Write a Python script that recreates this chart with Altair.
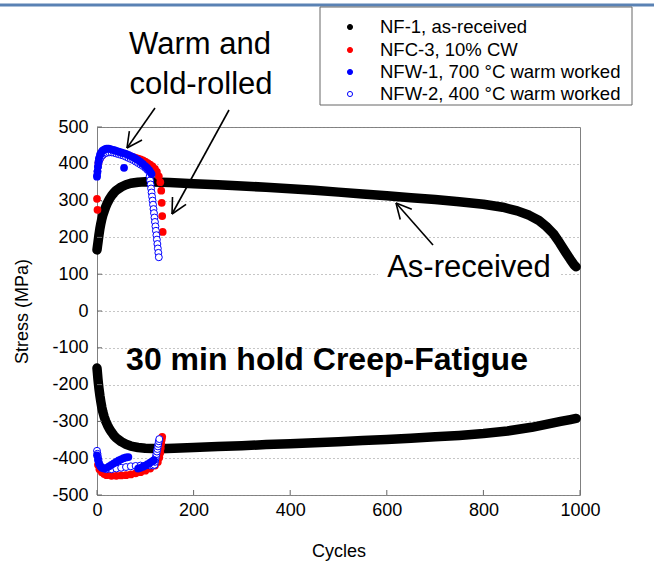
import math
import altair as alt
import pandas as pd

# ---------------- data ----------------
SERIES = ["NF-1, as-received", "NFC-3, 10% CW",
          "NFW-1, 700 °C warm worked", "NFW-2, 400 °C warm worked"]

# NF-1 as-received: tension peak (max) and compression peak (min)
NF1_T_CYC = [0, 1, 2, 3, 4, 5, 6, 8, 10, 12, 15, 18, 22, 26, 30, 35, 40, 50, 60, 70,
             85, 100, 150, 200, 250, 300, 350, 400, 450, 500, 550, 600, 650, 700, 750, 800,
             840, 870, 895, 915, 930, 945, 958, 970, 980, 988, 992]
NF1_T_S = [166, 176, 186, 196, 206, 215, 224, 238, 250, 260, 272, 283, 295, 305, 313, 321, 328, 337, 343, 347,
           350, 351, 349, 346, 343, 340, 336, 332, 328, 323, 318, 313, 308, 303, 297, 290,
           282, 272, 260, 246, 230, 210, 185, 160, 140, 125, 120]
NF1_C_CYC = [0, 1, 2, 3, 4, 5, 6, 8, 10, 12, 15, 18, 22, 26, 30, 35, 40, 50, 60, 70,
             85, 100, 130, 160, 200, 250, 300, 350, 400, 450, 500, 550, 600, 650, 700, 750,
             800, 850, 900, 930, 960, 980, 992]
NF1_C_S = [-155, -170, -185, -198, -210, -220, -230, -247, -262, -274, -288, -299, -311, -321, -329, -338, -345, -355, -362, -367,
           -371, -373, -374, -373, -371, -368, -366, -363, -361, -358, -355, -352, -349, -346, -342, -338,
           -333, -326, -316, -308, -300, -295, -292]

# NFC-3, 10% CW
RED_T_CYC = [0, 1, 3, 6, 10, 15, 20, 25, 30, 35, 40, 45, 50, 55, 60, 65, 70, 75, 80, 85,
             90, 95, 100, 105, 110, 115, 120, 124, 128, 131, 133, 134, 135, 136]
RED_T_S = [305, 275, 402, 414, 422, 428, 432, 434, 434, 433, 432, 430, 428, 426, 424, 422, 420, 418, 416, 414,
           412, 409, 406, 402, 398, 393, 386, 378, 366, 350, 327, 294, 258, 215]
RED_C_CYC = [2, 5, 10, 15, 20, 30, 40, 50, 60, 70, 80, 90, 100, 110, 120, 126, 129, 131, 132, 133, 134, 135]
RED_C_S = [-418, -430, -438, -443, -446, -448, -448, -447, -446, -444, -441, -438, -434, -428, -420, -410,
           -398, -385, -372, -360, -350, -342]

# NFW-1, 700 °C warm worked (filled blue)
BF_T_CYC = [0, 1, 2, 3, 4, 6, 8, 11, 14, 17, 20, 24, 28, 32, 36, 40, 45, 50, 55, 60,
            65, 70, 75, 80, 85, 90, 95, 100, 104, 108, 111, 113, 56]
BF_T_S = [365, 378, 392, 405, 415, 424, 430, 435, 438, 440, 441, 441, 440, 438, 437, 435, 433, 431, 429, 427,
          424, 421, 418, 414, 410, 405, 400, 394, 389, 383, 377, 372, 389]
BF_C_CYC = [0, 2, 4, 7, 10, 15, 20, 25, 30, 35, 40, 45, 50, 55, 60, 65,
            85, 90, 95, 100, 105, 110, 115, 118]
BF_C_S = [-392, -405, -415, -422, -426, -428, -426, -422, -418, -414, -410, -406, -403, -400, -398, -397,
          -428, -426, -423, -420, -416, -412, -408, -405]

# NFW-2, 400 °C warm worked (open blue)
BO_T_CYC = [0, 1, 2, 3, 5, 8, 12, 16, 20, 25, 30, 35, 40, 45, 50, 55, 60, 65, 70, 75,
            80, 85, 90, 95, 100, 104, 108, 109, 110, 111, 112, 113, 114, 115, 116, 117,
            118, 119, 120, 121, 122, 123, 124, 125, 126, 127, 128]
BO_T_S = [368, 380, 392, 402, 410, 418, 424, 428, 430, 431, 431, 430, 428, 426, 424, 422, 419, 416, 413, 410,
          406, 402, 398, 394, 389, 384, 378, 366, 355, 344, 333, 322, 311, 300, 289, 277,
          266, 254, 242, 230, 218, 206, 194, 182, 170, 158, 146]
BO_C_CYC = [0, 1, 2, 3, 4, 6, 10, 20, 30, 40, 50, 60, 70, 80, 90, 100, 110, 116,
            119, 120, 121, 122, 123, 124, 125, 126, 127, 128, 129]
BO_C_S = [-380, -388, -396, -404, -412, -418, -425, -430, -430, -428, -426, -424, -422, -421, -420, -420, -420, -420,
          -418, -410, -403, -396, -389, -382, -375, -368, -361, -354, -348]

X_TICKS = [0, 200, 400, 600, 800, 1000]
Y_TICKS = [-500, -400, -300, -200, -100, 0, 100, 200, 300, 400, 500]

# ---------------- tables ----------------
def frame(cyc, s, half):
    return pd.DataFrame({"cycle": cyc, "stress": s, "half": half})

black_df = pd.concat([frame(NF1_T_CYC, NF1_T_S, "t"), frame(NF1_C_CYC, NF1_C_S, "c")])
red_df = pd.concat([frame(RED_T_CYC, RED_T_S, "t"), frame(RED_C_CYC, RED_C_S, "c")])
bf_df = pd.concat([frame(BF_T_CYC, BF_T_S, "t"), frame(BF_C_CYC, BF_C_S, "c")])
bo_df = pd.concat([frame(BO_T_CYC, BO_T_S, "t"), frame(BO_C_CYC, BO_C_S, "c")])

FONT = "Liberation Sans"
W, H = 483, 368
PAD_L, PAD_T = 97, 127

xs = alt.Scale(domain=[0, 1000], nice=False, zero=False)
ys = alt.Scale(domain=[-500, 500], nice=False, zero=False)

XA = alt.Axis(
    values=X_TICKS, title="Cycles", grid=False, ticks=False, domain=False,
    labelExpr="'' + datum.value", labelOverlap=False, labelFlush=False,
    labelFont=FONT, labelFontSize=18, labelColor="black", labelPadding=6,
    titleFont=FONT, titleFontSize=18, titleFontWeight="normal", titleColor="black",
    titleX=W / 2, titleY=56, titleBaseline="middle")
YA = alt.Axis(
    values=Y_TICKS, title="Stress (MPa)", grid=True, gridDash=[1, 3], gridColor="#8c8c8c",
    ticks=False, domain=False,
    labelExpr="'' + datum.value", labelOverlap=False, labelFlush=False,
    labelFont=FONT, labelFontSize=18, labelColor="black", labelPadding=9,
    titleFont=FONT, titleFontSize=18, titleFontWeight="normal", titleColor="black",
    titleX=-75, titleY=H / 2, titleAngle=-90, titleAlign="center", titleBaseline="middle")

def X():
    return alt.X("cycle:Q", scale=xs, axis=XA, title="Cycles")

def Y():
    return alt.Y("stress:Q", scale=ys, axis=YA, title="Stress (MPa)")

dummy = pd.DataFrame({"a": [0]})
layers = []

# black band (as-received) -- first layer carries the axes
layers.append(alt.Chart(black_df).mark_line(
    color="black", strokeWidth=9.5, strokeCap="round", strokeJoin="round").encode(
    x=X(), y=Y(), detail="half:N", order="cycle:Q"))

# white box behind "As-received"
layers.append(alt.Chart(dummy).mark_rect(color="white").encode(
    x=alt.value(281), x2=alt.value(463), y=alt.value(126), y2=alt.value(157)))

# inward ticks
xt = pd.DataFrame({"cycle": X_TICKS})
yt = pd.DataFrame({"stress": Y_TICKS})
layers.append(alt.Chart(xt).mark_rule(color="#666", strokeWidth=1).encode(
    x=X(), y=alt.value(H), y2=alt.value(H - 5)))
layers.append(alt.Chart(yt).mark_rule(color="#666", strokeWidth=1).encode(
    y=Y(), x=alt.value(0), x2=alt.value(5)))

PT = 60
layers.append(alt.Chart(red_df).mark_circle(color="#ff0000", size=PT, opacity=1).encode(
    x=X(), y=Y()))
layers.append(alt.Chart(bo_df).mark_point(
    shape="circle", stroke="#0000ff", fill="white", filled=True, size=48, strokeWidth=1, opacity=1).encode(
    x=X(), y=Y()))
layers.append(alt.Chart(bf_df).mark_circle(color="#0000ff", size=PT, opacity=1).encode(
    x=X(), y=Y()))

# top blue line of the slide
layers.append(alt.Chart(dummy).mark_rule(color="#5a82b4", strokeWidth=3).encode(
    x=alt.value(-PAD_L), x2=alt.value(654 - PAD_L), y=alt.value(5 - PAD_T)))

# legend box
LX0, LX1, LY0, LY1 = 320 - PAD_L, 632 - PAD_L, 7 - PAD_T, 105 - PAD_T
layers.append(alt.Chart(dummy).mark_rect(fill="white", stroke="#666", strokeWidth=1).encode(
    x=alt.value(LX0), x2=alt.value(LX1), y=alt.value(LY0), y2=alt.value(LY1)))
rows = [27, 50, 72, 94]
sym = [("black", "black"), ("#ff0000", "#ff0000"), ("#0000ff", "#0000ff"), ("#0000ff", "white")]
for name, ry, (st, fi) in zip(SERIES, rows, sym):
    layers.append(alt.Chart(dummy).mark_point(
        shape="circle", stroke=st, fill=fi, filled=True, size=26, strokeWidth=1, opacity=1).encode(
        x=alt.value(350 - PAD_L), y=alt.value(ry - PAD_T)))
    layers.append(alt.Chart(dummy).mark_text(
        font=FONT, fontSize=18.5, align="left", baseline="middle", color="black").encode(
        x=alt.value(380 - PAD_L), y=alt.value(ry - PAD_T), text=alt.value(name)))

# annotations
def text_layer(s, cx, cy, size, weight="normal"):
    return alt.Chart(dummy).mark_text(
        font=FONT, fontSize=size, fontWeight=weight, align="center", baseline="middle",
        color="black").encode(x=alt.value(cx - PAD_L), y=alt.value(cy - PAD_T), text=alt.value(s))

layers.append(text_layer("Warm and", 200, 45, 31))
layers.append(text_layer("cold-rolled", 201, 85, 31))
layers.append(text_layer("As-received", 469, 268, 31))
layers.append(text_layer("30 min hold Creep-Fatigue", 327, 360, 32, "bold"))

def arrow(tail, tip, L=17, ang=27):
    dx, dy = tail[0] - tip[0], tail[1] - tip[1]
    a = math.atan2(dy, dx)
    segs = [(tail, tip)]
    for sgn in (-1, 1):
        b = a + sgn * math.radians(ang)
        segs.append((tip, (tip[0] + L * math.cos(b), tip[1] + L * math.sin(b))))
    return segs

ARROWS = [((155, 108), (127, 148)), ((229, 110), (172, 214)), ((433, 245), (396, 203))]
for tail, tip in ARROWS:
    for (p, q) in arrow(tail, tip):
        layers.append(alt.Chart(dummy).mark_rule(color="black", strokeWidth=1.6).encode(
            x=alt.value(p[0] - PAD_L), y=alt.value(p[1] - PAD_T),
            x2=alt.value(q[0] - PAD_L), y2=alt.value(q[1] - PAD_T)))

chart = alt.layer(*layers).properties(
    width=W, height=H,
    autosize=alt.AutoSizeParams(type="none"),
    padding={"left": PAD_L, "top": PAD_T, "right": 654 - PAD_L - W, "bottom": 562 - PAD_T - H},
).configure(font=FONT, background="white").configure_view(stroke="#808080", strokeWidth=1)

chart.save("out.html", embed_options={"renderer": "svg", "actions": False})
